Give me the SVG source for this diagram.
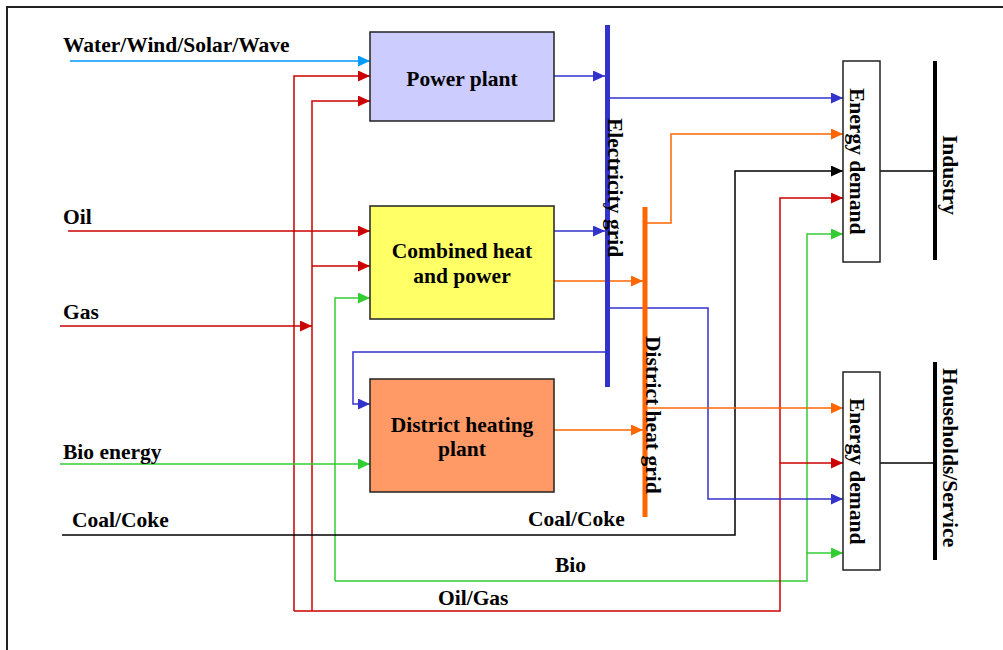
<svg xmlns="http://www.w3.org/2000/svg" width="1003" height="650" viewBox="0 0 1003 650">
<style>
text{font-family:"Liberation Serif","Times New Roman",serif;font-weight:bold;font-size:21.5px;fill:#000}
.box{stroke:#222;stroke-width:1.5}
.c{fill:none;stroke-width:1.5}
.bl{stroke:#3333CC}.lb{stroke:#0099FF}.rd{stroke:#CC0000}.gr{stroke:#33CC33}.or{stroke:#FF6600}.bk{stroke:#000}
</style>
<defs>
<marker id="aBl" markerUnits="userSpaceOnUse" markerWidth="12" markerHeight="11" refX="12" refY="5.5" orient="auto"><path d="M0,0L12,5.5L0,11z" fill="#3333CC"/></marker>
<marker id="aLb" markerUnits="userSpaceOnUse" markerWidth="12" markerHeight="11" refX="12" refY="5.5" orient="auto"><path d="M0,0L12,5.5L0,11z" fill="#0099FF"/></marker>
<marker id="aRd" markerUnits="userSpaceOnUse" markerWidth="12" markerHeight="11" refX="12" refY="5.5" orient="auto"><path d="M0,0L12,5.5L0,11z" fill="#CC0000"/></marker>
<marker id="aGr" markerUnits="userSpaceOnUse" markerWidth="12" markerHeight="11" refX="12" refY="5.5" orient="auto"><path d="M0,0L12,5.5L0,11z" fill="#33CC33"/></marker>
<marker id="aOr" markerUnits="userSpaceOnUse" markerWidth="12" markerHeight="11" refX="12" refY="5.5" orient="auto"><path d="M0,0L12,5.5L0,11z" fill="#FF6600"/></marker>
<marker id="aBk" markerUnits="userSpaceOnUse" markerWidth="12" markerHeight="11" refX="12" refY="5.5" orient="auto"><path d="M0,0L12,5.5L0,11z" fill="#000"/></marker>
</defs>
<rect width="1003" height="650" fill="#fff"/>
<path d="M7,650V7H1003" fill="none" stroke="#222" stroke-width="2"/>

<g id="connectors">
<path class="c lb" d="M70,61H370" marker-end="url(#aLb)"/>
<path class="c rd" d="M294,611V76H370" marker-end="url(#aRd)"/>
<path class="c rd" d="M312,611V101H370" marker-end="url(#aRd)"/>
<path class="c rd" d="M68,231H370" marker-end="url(#aRd)"/>
<path class="c rd" d="M312,266H370" marker-end="url(#aRd)"/>
<path class="c rd" d="M60,326H312" marker-end="url(#aRd)"/>
<path class="c gr" d="M335,581V298H370" marker-end="url(#aGr)"/>
<path class="c gr" d="M60,464H370" marker-end="url(#aGr)"/>
<path class="c gr" d="M335,581H807V553H843" marker-end="url(#aGr)"/>
<path class="c gr" d="M807,553V234H843" marker-end="url(#aGr)"/>
<path class="c rd" d="M294,611H780V463H843" marker-end="url(#aRd)"/>
<path class="c rd" d="M780,463V198H843" marker-end="url(#aRd)"/>
<path class="c bk" d="M62,535H735V171H843" marker-end="url(#aBk)"/>
<path class="c bl" d="M554,76H605" marker-end="url(#aBl)"/>
<path class="c bl" d="M554,231H605" marker-end="url(#aBl)"/>
<path class="c bl" d="M610,98H843" marker-end="url(#aBl)"/>
<path class="c bl" d="M610,308H708V499H843" marker-end="url(#aBl)"/>
<path class="c bl" d="M605,352H353V404H370" marker-end="url(#aBl)"/>
<path class="c or" d="M554,281H643" marker-end="url(#aOr)"/>
<path class="c or" d="M554,430H643" marker-end="url(#aOr)"/>
<path class="c or" d="M647,223H671V134H843" marker-end="url(#aOr)"/>
<path class="c or" d="M647,408H843" marker-end="url(#aOr)"/>
<path class="c bk" d="M880,171H935"/>
<path class="c bk" d="M880,463H935"/>
</g>

<g id="labels">
<text x="63" y="52">Water/Wind/Solar/Wave</text>
<text x="63" y="224">Oil</text>
<text x="63" y="319">Gas</text>
<text x="63" y="459">Bio energy</text>
<text x="72" y="527">Coal/Coke</text>
<text x="528" y="526">Coal/Coke</text>
<text x="555" y="572">Bio</text>
<text x="438" y="605">Oil/Gas</text>
</g>

<g id="power-plant">
<rect class="box" x="370" y="32" width="184" height="89" fill="#CCCCFF"/>
<text x="462" y="86" text-anchor="middle">Power plant</text>
</g>
<g id="chp">
<rect class="box" x="370" y="206" width="184" height="113" fill="#FFFF66"/>
<text x="462" y="258" text-anchor="middle">Combined heat</text>
<text x="462" y="283" text-anchor="middle">and power</text>
</g>
<g id="district-heating-plant">
<rect class="box" x="370" y="379" width="184" height="113" fill="#FF9966"/>
<text x="462" y="432" text-anchor="middle">District heating</text>
<text x="462" y="456" text-anchor="middle">plant</text>
</g>
<g id="electricity-grid">
<rect x="605" y="25" width="5" height="362" fill="#3333CC"/>
<text transform="translate(608,118) rotate(90)">Electricity grid</text>
</g>
<g id="district-heat-grid">
<rect x="642.5" y="207" width="5" height="310" fill="#FF6600"/>
<text transform="translate(646,336) rotate(90)">District heat grid</text>
</g>
<g id="energy-demand-industry">
<rect class="box" x="843" y="61" width="37" height="201" fill="#fff"/>
<text transform="translate(850,88) rotate(90)">Energy demand</text>
</g>
<g id="energy-demand-households">
<rect class="box" x="843" y="372" width="37" height="198" fill="#fff"/>
<text transform="translate(850,398) rotate(90)">Energy demand</text>
</g>
<g id="industry">
<rect x="933" y="61" width="4" height="199" fill="#000"/>
<text transform="translate(943,135) rotate(90)">Industry</text>
</g>
<g id="households-service">
<rect x="933" y="362" width="4" height="198" fill="#000"/>
<text transform="translate(943,368) rotate(90)">Households/Service</text>
</g>
</svg>
